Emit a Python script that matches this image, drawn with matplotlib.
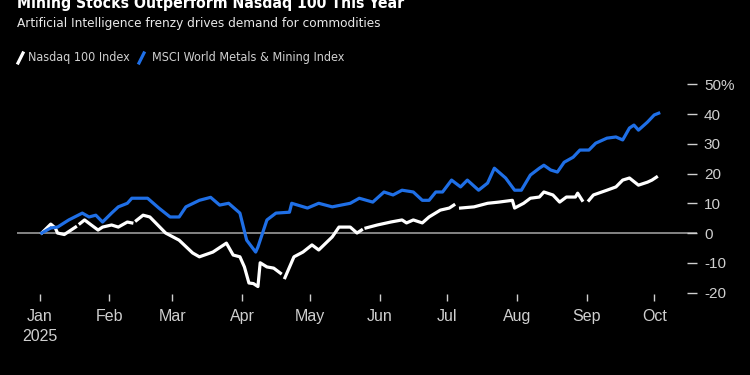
import numpy as np
import pandas as pd
import matplotlib
matplotlib.use("Agg")
import matplotlib.pyplot as plt
from matplotlib.lines import Line2D

# datos (cambio % en el anio)
nasdaq_dates = ["2025-01-02", "2025-01-06", "2025-01-08", "2025-01-09", "2025-01-12",
                "2025-01-15", "2025-01-17", "2025-01-18", "2025-01-19", "2025-01-21",
                "2025-01-24", "2025-01-27", "2025-01-29", "2025-02-02", "2025-02-05",
                "2025-02-09", "2025-02-11", "2025-02-12", "2025-02-13", "2025-02-15",
                "2025-02-16", "2025-02-19", "2025-02-26", "2025-03-04", "2025-03-10",
                "2025-03-13", "2025-03-19", "2025-03-25", "2025-03-28", "2025-03-31",
                "2025-04-02", "2025-04-04", "2025-04-06", "2025-04-08", "2025-04-09",
                "2025-04-12", "2025-04-15", "2025-04-18", "2025-04-19", "2025-04-20",
                "2025-04-24", "2025-04-28", "2025-05-02", "2025-05-05", "2025-05-11",
                "2025-05-14", "2025-05-19", "2025-05-22", "2025-05-24", "2025-05-25",
                "2025-05-26", "2025-05-31", "2025-06-06", "2025-06-11", "2025-06-13",
                "2025-06-16", "2025-06-20", "2025-06-23", "2025-06-28", "2025-07-02",
                "2025-07-04", "2025-07-05", "2025-07-07", "2025-07-13", "2025-07-19",
                "2025-07-24", "2025-07-30", "2025-07-31", "2025-08-04", "2025-08-07",
                "2025-08-11", "2025-08-13", "2025-08-17", "2025-08-20", "2025-08-23",
                "2025-08-27", "2025-08-28", "2025-08-30", "2025-08-31", "2025-09-02",
                "2025-09-04", "2025-09-10", "2025-09-14", "2025-09-17", "2025-09-20",
                "2025-09-24", "2025-09-28", "2025-09-30", "2025-10-02"]
nasdaq_pct = [0, 3, 1.7, 0, -0.5,
              1, 2, np.nan, 3.2, 4.4,
              2.7, 1, 2, 2.7, 2,
              3.7, 3.4, np.nan, 4.2, 5.4,
              6, 5.4, 0, -2.4, -6.7,
              -8, -6.4, -3.4, -7.4, -8,
              -11.4, -16.8, -17, -18, -10,
              -11.4, -11.8, -13.5, np.nan, -15,
              -8, -6.4, -4, -5.7, -1.3,
              2, 2, 0, 1, np.nan,
              1.7, 2.7, 3.7, 4.4, 3.4,
              4.4, 3.4, 5.4, 7.7, 8.4,
              9.4, np.nan, 8.4, 8.8, 10,
              10.4, 11, 8.4, 10, 11.7,
              12.1, 13.8, 12.8, 10.4, 12.1,
              12.1, 13.4, 11, np.nan, 11,
              12.8, 14.4, 15.5, 17.8, 18.5,
              16.1, 17.1, 17.8, 18.8]

metals_dates = ["2025-01-02", "2025-01-06", "2025-01-09", "2025-01-14", "2025-01-20",
                "2025-01-23", "2025-01-26", "2025-01-29", "2025-02-02", "2025-02-05",
                "2025-02-09", "2025-02-11", "2025-02-15", "2025-02-18", "2025-02-23",
                "2025-02-28", "2025-03-04", "2025-03-07", "2025-03-13", "2025-03-18",
                "2025-03-22", "2025-03-26", "2025-03-31", "2025-04-03", "2025-04-07",
                "2025-04-08", "2025-04-12", "2025-04-16", "2025-04-22", "2025-04-23",
                "2025-04-30", "2025-05-05", "2025-05-11", "2025-05-19", "2025-05-23",
                "2025-05-29", "2025-06-03", "2025-06-07", "2025-06-11", "2025-06-16",
                "2025-06-20", "2025-06-23", "2025-06-26", "2025-06-29", "2025-07-03",
                "2025-07-07", "2025-07-10", "2025-07-15", "2025-07-19", "2025-07-22",
                "2025-07-27", "2025-07-31", "2025-08-03", "2025-08-07", "2025-08-11",
                "2025-08-13", "2025-08-16", "2025-08-19", "2025-08-22", "2025-08-26",
                "2025-08-29", "2025-09-02", "2025-09-05", "2025-09-10", "2025-09-14",
                "2025-09-17", "2025-09-20", "2025-09-22", "2025-09-24", "2025-09-28",
                "2025-10-01", "2025-10-03"]
metals_pct = [0, 1.7, 2, 4.4, 6.7,
              5.4, 6, 3.7, 6.7, 8.8,
              10, 11.7, 11.7, 11.7, 8.4,
              5.4, 5.4, 8.8, 11, 12,
              9.4, 10, 6.7, -2.4, -6.4,
              -4.7, 4.4, 6.7, 7, 10,
              8.4, 10, 8.8, 10, 11.7,
              10.4, 13.8, 12.8, 14.4, 13.8,
              11, 11, 13.8, 13.8, 17.8,
              15.5, 17.8, 14.4, 16.8, 21.8,
              18.5, 14.4, 14.4, 19.5, 21.8,
              22.8, 21.2, 20.5, 23.8, 25.5,
              27.9, 27.9, 30.2, 31.9, 32.3,
              31.3, 35.3, 36.3, 34.6, 37.3,
              39.7, 40.3]

month_ticks = ["2025-01-01", "2025-02-01", "2025-03-01", "2025-04-01", "2025-05-01",
               "2025-06-01", "2025-07-01", "2025-08-01", "2025-09-01", "2025-10-01"]
month_labels = ["Jan\n2025", "Feb", "Mar", "Apr", "May", "Jun", "Jul", "Aug", "Sep", "Oct"]
y_ticks = [-20, -10, 0, 10, 20, 30, 40, 50]
y_labels = ["-20", "-10", "0", "10", "20", "30", "40", "50%"]

# fuente angosta para titulos (la del original es condensada)
narrow = ["DejaVu Sans", "Liberation Sans"]
normal = ["Liberation Sans", "DejaVu Sans"]
blue = "#1f6fe6"

fig = plt.figure(figsize=(7.5, 3.75), dpi=100, facecolor="black")
ax = fig.add_axes([17 / 750, 0.216, 680 / 750, 0.575])
ax.set_facecolor("black")

ax.axhline(0, color="#a8a8a8", lw=1.1, zorder=1)
ax.plot(pd.to_datetime(metals_dates), metals_pct, color=blue, lw=2.3,
        solid_joinstyle="round", zorder=3)
ax.plot(pd.to_datetime(nasdaq_dates), nasdaq_pct, color="white", lw=2.3,
        solid_joinstyle="round", zorder=2)

ax.set_xlim(pd.Timestamp("2024-12-22"), pd.Timestamp("2025-10-20"))
ax.set_ylim(-20.5, 52)

for s in ax.spines.values():
    s.set_visible(False)

ax.set_xticks(pd.to_datetime(month_ticks))
ax.set_xticklabels(month_labels, family=normal, fontsize=11.5, color="#cfcfcf",
                   linespacing=1.4, va="top")
ax.tick_params(axis="x", direction="out", length=5, width=1, color="#cfcfcf", pad=6)

ax.yaxis.tick_right()
ax.set_yticks(y_ticks)
ax.set_yticklabels(y_labels, family=normal, fontsize=11, color="#cfcfcf")
ax.tick_params(axis="y", direction="in", length=7, width=1, color="#cfcfcf", pad=5)

# titulos
fig.text(17 / 750, 1 - 8 / 375, "Mining Stocks Outperform Nasdaq 100 This Year",
         family=narrow, fontstretch="condensed", fontsize=11.3, weight="bold",
         color="white", va="baseline")
fig.text(17 / 750, 1 - 23 / 375, "Artificial Intelligence frenzy drives demand for commodities",
         family=narrow, fontstretch="condensed", fontsize=9.7, color="#e8e8e8", va="center")

# leyenda
fig.add_artist(Line2D([18 / 750, 23 / 750], [1 - 63 / 375, 1 - 53 / 375],
                      color="white", lw=2.3, transform=fig.transFigure))
fig.text(28 / 750, 1 - 58 / 375, "Nasdaq 100 Index", family=narrow,
         fontstretch="condensed", fontsize=9, color="#d0d0d0", va="center")
fig.add_artist(Line2D([139 / 750, 144 / 750], [1 - 63 / 375, 1 - 53 / 375],
                      color=blue, lw=2.3, transform=fig.transFigure))
fig.text(152 / 750, 1 - 58 / 375, "MSCI World Metals & Mining Index", family=narrow,
         fontstretch="condensed", fontsize=9, color="#d0d0d0", va="center")

fig.savefig("out.png", dpi=100, facecolor="black")
